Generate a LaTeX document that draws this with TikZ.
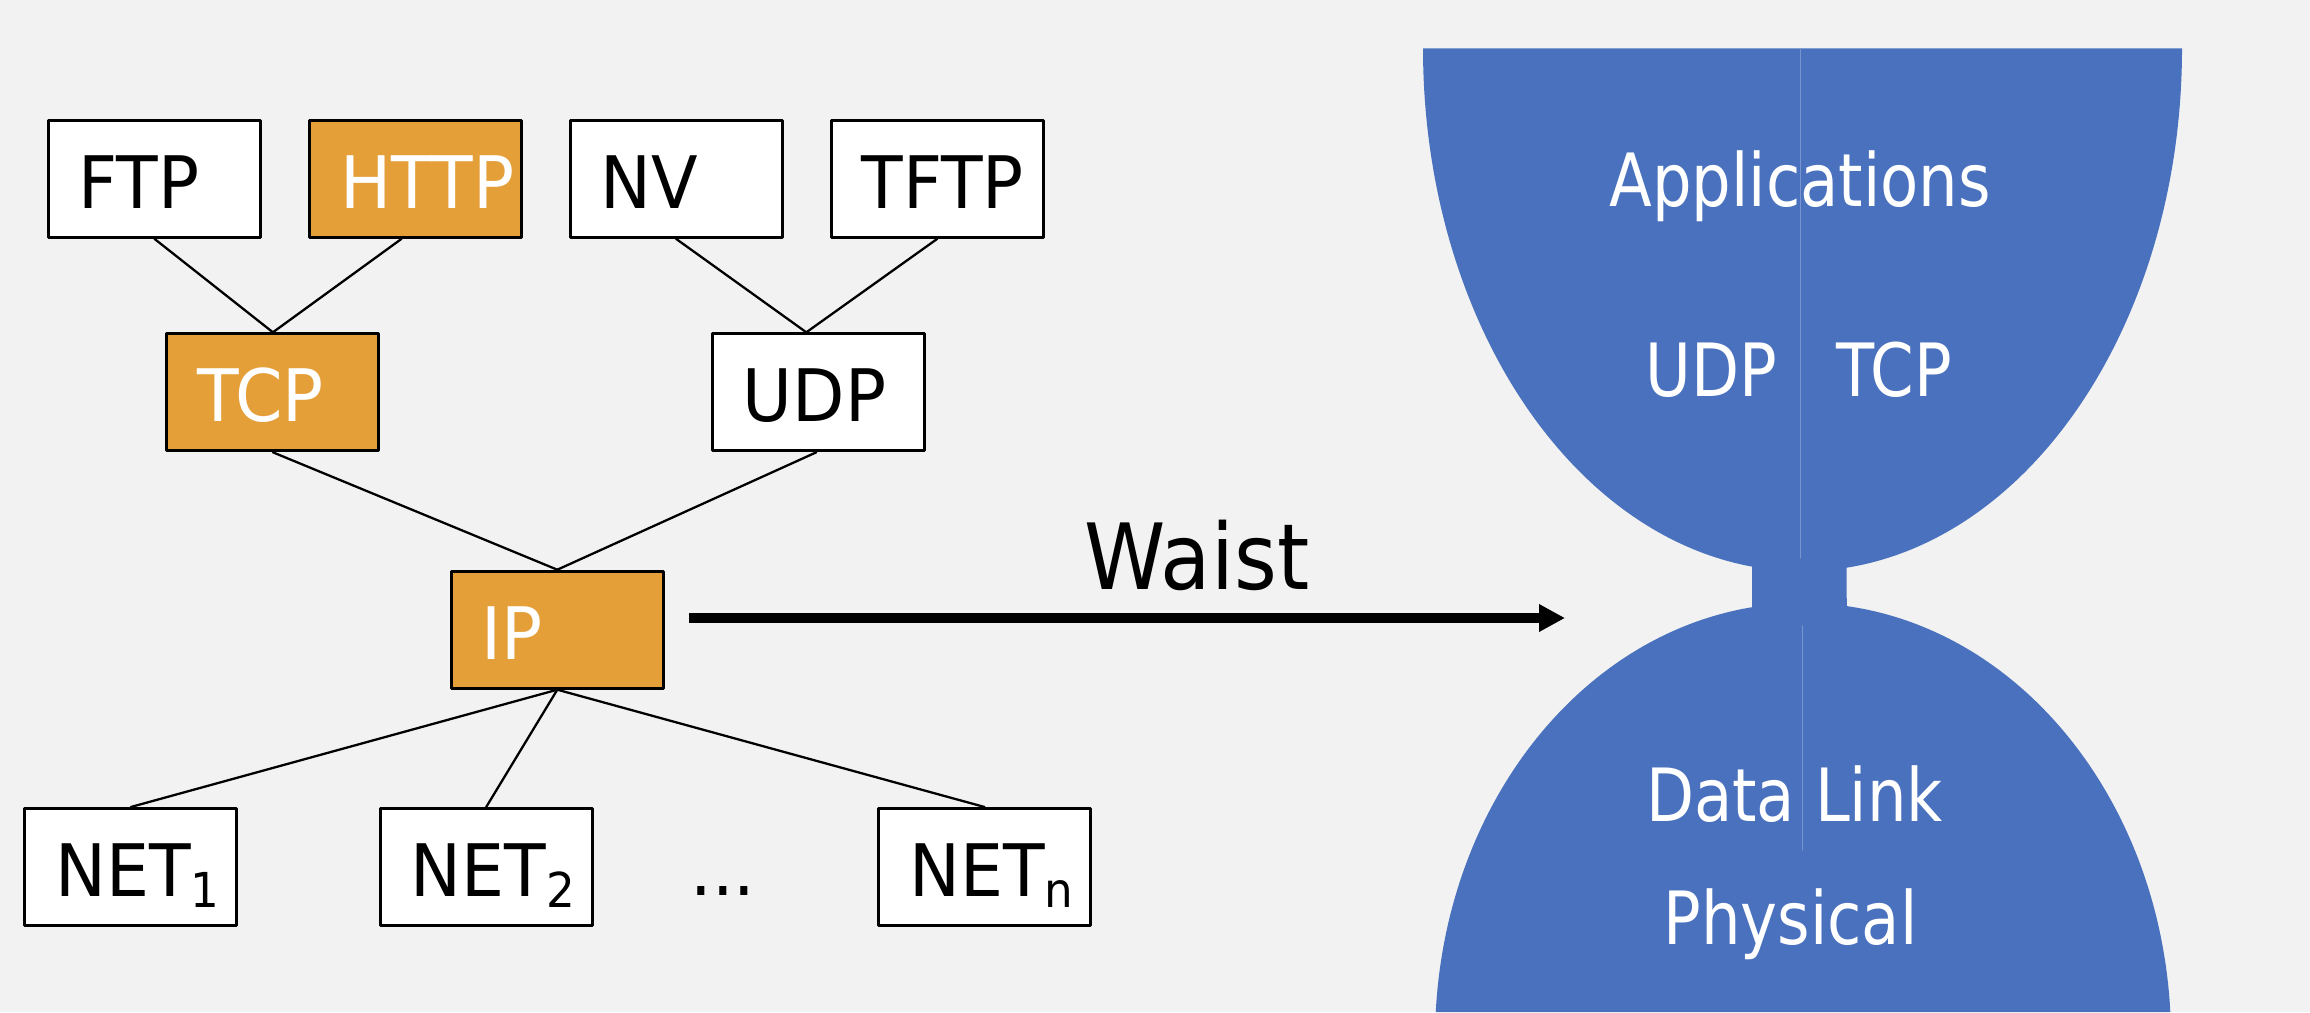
\documentclass[tikz,border=0pt]{standalone}
\usepackage{fontspec}
\setmainfont{DejaVu Sans}[FakeStretch=0.9]
\newfontfamily\protofont{DejaVu Sans}[FakeStretch=0.94]
\newfontfamily\glassfont{DejaVu Sans}[FakeStretch=0.85]
\usepackage{xcolor}
\usepackage{tikz}
\usetikzlibrary{arrows.meta}
\definecolor{paper}{HTML}{F2F2F2}
\definecolor{hotorange}{HTML}{E59F39}
\definecolor{glassblue}{HTML}{4971BE}
\newcommand{\netidx}[1]{\raisebox{-3.2pt}{\fontsize{13.7pt}{14pt}\selectfont #1}}
\tikzset{%
        proto/.style = { draw, fill=white, line width=0.85pt, minimum width=2.12cm, minimum height=1.17cm,
                         inner xsep=0.305cm, text width=1.51cm, align=left,
                         font=\protofont\fontsize{20.6pt}{24pt}\selectfont, text height=16.7pt, text depth=0pt },
          hot/.style = { proto, fill=hotorange, text=white },
         link/.style = { line width=0.65pt },
        waist/.style = { ->, line width=2.65pt, line cap=butt },
        glass/.style = { text=white, inner sep=0pt, font=\glassfont\fontsize{20.9pt}{24pt}\selectfont, text height=15.24pt, text depth=0pt },
         seam/.style = { glassblue!75!white, line width=0.3pt }
}
\begin{document}
\begin{tikzpicture}[line cap=round,line join=round,>={Triangle[length=0.26cm,width=0.26cm]},x=1.0cm,y=1.0cm]
\useasboundingbox (0,0) rectangle (23.1,10.12);
\fill[paper] (0,0) rectangle (23.1,10.12);
\node[proto] (FTP)  at (1.544,8.332) {FTP};
\node[hot]   (HTTP) at (4.156,8.332) {HTTP};
\node[proto] (NV)   at (6.760,8.332) {NV};
\node[proto] (TFTP) at (9.373,8.332) {TFTP};
\node[hot]   (TCP)  at (2.729,6.197) {TCP};
\node[proto] (UDP)  at (8.183,6.197) {UDP};
\node[hot]   (IP)   at (5.573,3.823) {IP};
\node[proto] (NET1) at (1.308,1.450) {NET\netidx{1}};
\node[proto] (NET2) at (4.862,1.450) {NET\netidx{2}};
\node[proto] (NETn) at (9.846,1.450) {NET\netidx{n}};
\node[anchor=base,font=\protofont\fontsize{20.6pt}{24pt}\selectfont] (dots) at (7.23,1.163) {...};
\draw[link] (FTP.south) -- (TCP.north);
\draw[link] ([xshift=-0.14cm]HTTP.south) -- (TCP.north);
\draw[link] (NV.south) -- ([xshift=-0.12cm]UDP.north);
\draw[link] (TFTP.south) -- ([xshift=-0.12cm]UDP.north);
\draw[link] (TCP.south) -- (IP.north);
\draw[link] ([xshift=-0.02cm]UDP.south) -- (IP.north);
\draw[link] (IP.south) -- (NET1.north);
\draw[link] (IP.south) -- (NET2.north);
\draw[link] (IP.south) -- (NETn.north);
%hourglass
\fill[glassblue] (14.23,9.637) arc[start angle=180,end angle=262.35,x radius=3.795,y radius=5.23]
   -- (17.52,4.048) arc[start angle=97.97,end angle=176.45,x radius=3.68,y radius=4.36]
   -- (21.703,0) arc[start angle=3.55,end angle=83.18,x radius=3.68,y radius=4.36]
   -- (18.467,4.443) arc[start angle=276.69,end angle=360,x radius=3.795,y radius=5.23] -- cycle;
\draw[seam] (18.0,9.637) -- (18.0,4.54);
\draw[seam] (18.023,3.86) -- (18.023,1.62);
\node[glass] (apps) at (18.00,8.325) {Applications};
\node[glass] (gudp) at (17.113,6.42) {UDP};
\node[glass] (gtcp) at (18.94,6.42) {TCP};
\node[glass] (link) at (17.945,2.17) {Data Link};
\node[glass] (phys) at (17.905,0.944) {Physical};
\coordinate (w1) at (6.89,3.94);
\coordinate (w2) at (15.65,3.94);
\draw[waist] (w1) -- (w2);
\node[inner sep=0pt,font=\fontsize{26pt}{30pt}\selectfont,text height=18.95pt,text depth=0pt] (Waist) at (11.97,4.56) {Waist};
\end{tikzpicture}
\end{document}
